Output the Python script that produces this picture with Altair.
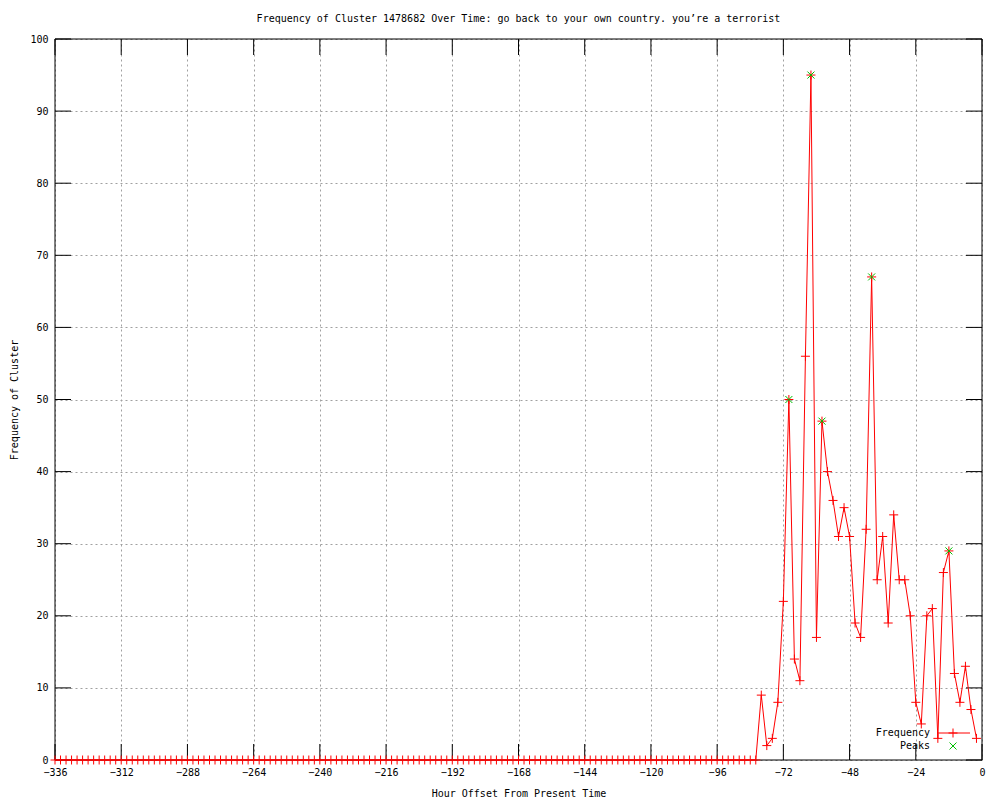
import altair as alt
import pandas as pd

# ---- data ----
hours = list(range(-336, 0, 2))
counts = [
    0, 0, 0, 0, 0, 0, 0, 0, 0, 0, 0, 0, 0, 0, 0, 0,
    0, 0, 0, 0, 0, 0, 0, 0, 0, 0, 0, 0, 0, 0, 0, 0,
    0, 0, 0, 0, 0, 0, 0, 0, 0, 0, 0, 0, 0, 0, 0, 0,
    0, 0, 0, 0, 0, 0, 0, 0, 0, 0, 0, 0, 0, 0, 0, 0,
    0, 0, 0, 0, 0, 0, 0, 0, 0, 0, 0, 0, 0, 0, 0, 0,
    0, 0, 0, 0, 0, 0, 0, 0, 0, 0, 0, 0, 0, 0, 0, 0,
    0, 0, 0, 0, 0, 0, 0, 0, 0, 0, 0, 0, 0, 0, 0, 0,
    0, 0, 0, 0, 0, 0, 0, 0, 0, 0, 0, 0, 0, 0, 0, 0,
    9, 2, 3, 8, 22, 50, 14, 11, 56, 95, 17, 47, 40, 36, 31, 35,
    31, 19, 17, 32, 67, 25, 31, 19, 34, 25, 25, 20, 8, 5, 20, 21,
    3, 26, 29, 12, 8, 13, 7, 3,
]
peak_hours = [-70, -62, -58, -40, -12]
peak_counts = [50, 95, 47, 67, 29]
x_ticks = [-336, -312, -288, -264, -240, -216, -192, -168, -144, -120, -96, -72, -48, -24, 0]
y_ticks = [0, 10, 20, 30, 40, 50, 60, 70, 80, 90, 100]

title_text = "Frequency of Cluster 1478682 Over Time: go back to your own country. you\u2019re a terrorist"
x_title = "Hour Offset From Present Time"
y_title = "Frequency of Cluster"

FONT = "DejaVu Sans Mono"
W, H = 927, 721
PLUS = "M-1,0L1,0M0,-1L0,1"
CROSS = "M-1,-1L1,1M-1,1L1,-1"

df = pd.DataFrame({"hour": hours, "count": counts})
pk = pd.DataFrame({"hour": peak_hours, "count": peak_counts})
xt = pd.DataFrame({"v": x_ticks})
yt = pd.DataFrame({"v": y_ticks})
one = pd.DataFrame({"a": [0]})

xscale = alt.Scale(domain=[-336, 0], nice=False, zero=False)
yscale = alt.Scale(domain=[0, 100], nice=False)

xaxis = alt.Axis(values=x_ticks, tickSize=0, domain=False, grid=True,
                 gridDash=[2, 3], gridColor="#a0a0a0", gridWidth=1,
                 labelFont=FONT, labelFontSize=10, labelColor="black",
                 labelPadding=7, title=x_title, titleFont=FONT,
                 titleFontSize=10, titleFontWeight="normal", titleColor="black",
                 titleY=28, titleBaseline="top", format="d", labelFlush=False)
yaxis = alt.Axis(values=y_ticks, tickSize=0, domain=False, grid=True,
                 gridDash=[2, 3], gridColor="#a0a0a0", gridWidth=1,
                 labelFont=FONT, labelFontSize=10, labelColor="black",
                 labelPadding=7, title=y_title, titleFont=FONT,
                 titleFontSize=10, titleFontWeight="normal", titleColor="black",
                 titleX=-41, titleY=H / 2, titleBaseline="middle", titleAngle=-90,
                 format="d", labelFlush=False)

base = alt.Chart(df)
line = base.mark_line(color="#ff0000", strokeWidth=1).encode(
    x=alt.X("hour:Q", scale=xscale, axis=xaxis),
    y=alt.Y("count:Q", scale=yscale, axis=yaxis),
)
pts = base.mark_point(shape=PLUS, size=81, filled=False, color="#ff0000",
                      strokeWidth=1, opacity=1).encode(
    x=alt.X("hour:Q", scale=xscale),
    y=alt.Y("count:Q", scale=yscale),
)
peaks = alt.Chart(pk).mark_point(shape=CROSS, size=49, filled=False, color="#00c000",
                                 strokeWidth=1, opacity=1).encode(
    x=alt.X("hour:Q", scale=xscale),
    y=alt.Y("count:Q", scale=yscale),
)

tick_b = alt.Chart(xt).mark_rule(color="black", strokeWidth=1).encode(
    x=alt.X("v:Q", scale=xscale), y=alt.value(H), y2=alt.value(H - 16))
tick_t = alt.Chart(xt).mark_rule(color="black", strokeWidth=1).encode(
    x=alt.X("v:Q", scale=xscale), y=alt.value(0), y2=alt.value(16))
tick_l = alt.Chart(yt).mark_rule(color="black", strokeWidth=1).encode(
    y=alt.Y("v:Q", scale=yscale), x=alt.value(0), x2=alt.value(16))
tick_r = alt.Chart(yt).mark_rule(color="black", strokeWidth=1).encode(
    y=alt.Y("v:Q", scale=yscale), x=alt.value(W), x2=alt.value(W - 16))
border = alt.Chart(one).mark_rect(filled=False, stroke="black", strokeWidth=1,
                                  fill=None).encode(
    x=alt.value(0), x2=alt.value(W), y=alt.value(0), y2=alt.value(H))

leg_txt1 = alt.Chart(one).mark_text(text="Frequency", align="right", baseline="middle",
                                    font=FONT, fontSize=10, color="black").encode(
    x=alt.value(875), y=alt.value(694))
leg_txt2 = alt.Chart(one).mark_text(text="Peaks", align="right", baseline="middle",
                                    font=FONT, fontSize=10, color="black").encode(
    x=alt.value(875), y=alt.value(707))
leg_line = alt.Chart(one).mark_rule(color="#ff0000", strokeWidth=1).encode(
    x=alt.value(882), x2=alt.value(915), y=alt.value(694))
leg_plus = alt.Chart(one).mark_point(shape=PLUS, size=81, filled=False, color="#ff0000",
                                     strokeWidth=1, opacity=1).encode(
    x=alt.value(898), y=alt.value(694))
leg_cross = alt.Chart(one).mark_point(shape=CROSS, size=49, filled=False, color="#00c000",
                                      strokeWidth=1, opacity=1).encode(
    x=alt.value(898), y=alt.value(707))

chart = alt.layer(
    border, tick_b, tick_t, tick_l, tick_r, line, pts, peaks,
    leg_line, leg_plus, leg_cross, leg_txt1, leg_txt2,
).properties(
    width=W, height=H,
    title=alt.TitleParams(title_text, font=FONT, fontSize=10, fontWeight="normal",
                          color="black", anchor="middle", offset=10),
    autosize=alt.AutoSizeParams(type="none"),
    padding={"left": 47, "top": 31, "right": 10, "bottom": 40},
    background="white",
).configure_view(stroke=None)

chart.save("out.html", embed_options={"renderer": "svg", "actions": False})
